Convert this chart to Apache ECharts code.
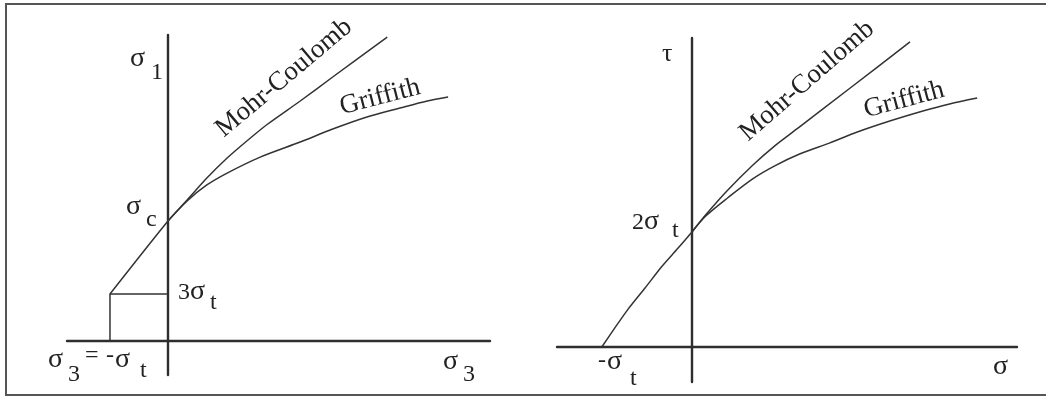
<!DOCTYPE html>
<html>
<head>
<meta charset="utf-8">
<script src="https://cdn.jsdelivr.net/npm/echarts@6/dist/echarts.min.js"></script>
<style>
  html, body { margin: 0; padding: 0; background: #fff; }
  #chart { width: 1046px; height: 398px; }
</style>
</head>
<body>
<div id="chart"></div>
<script>
// left panel: sigma1 vs sigma3, units of sigma_t
var leftRect = [[-1, 0], [-1, 3], [0, 3]];
var leftMohr = [[-1, 3], [0, 7.66], [0.33, 9.0], [0.67, 10.4], [1.02, 11.68], [1.38, 12.83],
  [1.72, 13.85], [2.28, 15.32], [2.84, 16.85], [3.78, 19.4]];
var leftGriffith = [[0, 7.66], [0.33, 8.94], [0.67, 9.96], [1.02, 10.72], [1.59, 11.74],
  [2.28, 12.7], [2.84, 13.53], [3.43, 14.3], [4.0, 14.87], [4.47, 15.32], [4.83, 15.57]];

// right panel: tau vs sigma, units of sigma_t
var rightTension = [[-0.98, 0], [-0.84, 0.32], [-0.7, 0.63], [-0.51, 1.0], [-0.33, 1.36],
  [-0.16, 1.66], [0, 1.95]];
var rightMohr = [[0, 1.95], [0.15, 2.24], [0.39, 2.66], [0.66, 3.08], [0.9, 3.41],
  [1.17, 3.73], [1.72, 4.39], [2.37, 5.17]];
var rightGriffith = [[0, 1.95], [0.15, 2.22], [0.39, 2.53], [0.66, 2.85], [0.9, 3.07],
  [1.17, 3.27], [1.5, 3.46], [1.79, 3.64], [2.15, 3.83], [2.51, 4.0], [2.8, 4.12], [3.1, 4.22]];

var axisColor = '#2e2e2e';
var lineColor = '#333';
var textColor = '#222';
var serif = '"Liberation Serif", "DejaVu Serif", serif';

function valueAxis(idx, min, max) {
  return {
    type: 'value', gridIndex: idx, min: min, max: max,
    axisLine: { show: true, onZero: true, lineStyle: { color: axisColor, width: 2.4 } },
    axisTick: { show: false }, axisLabel: { show: false }, splitLine: { show: false }
  };
}

function curve(name, idx, data, smooth) {
  return {
    name: name, type: 'line', xAxisIndex: idx, yAxisIndex: idx, data: data,
    showSymbol: false, smooth: smooth, silent: true,
    lineStyle: { color: lineColor, width: 1.5 }
  };
}

// x = left edge, b = baseline
function txt(x, b, s, size) {
  size = size || 24;
  return {
    type: 'text', x: x, y: b - 0.3 * size,
    style: { text: s, font: size + 'px ' + serif, fill: textColor, textAlign: 'left', textVerticalAlign: 'middle' }
  };
}
function sig(x, b) { return txt(x, b, 'σ', 28); }
function rotTxt(cx, cy, s, size, deg) {
  return {
    type: 'text', x: cx, y: cy, rotation: deg * Math.PI / 180,
    style: { text: s, font: size + 'px ' + serif, fill: textColor, textAlign: 'center', textVerticalAlign: 'middle' }
  };
}

var chart = echarts.init(document.getElementById('chart'));
var option = {
  backgroundColor: '#fff',
  animation: false,
  grid: [
    { left: 67, right: 556, top: 35, bottom: 23, containLabel: false },
    { left: 557, right: 29, top: 38, bottom: 16, containLabel: false }
  ],
  xAxis: [valueAxis(0, -1.741, 5.552), valueAxis(1, -1.467, 3.533)],
  yAxis: [valueAxis(0, -2.17, 19.532), valueAxis(1, -0.593, 5.237)],
  series: [
    curve('rect', 0, leftRect, false),
    curve('Mohr-Coulomb', 0, leftMohr, 0.25),
    curve('Griffith', 0, leftGriffith, 0.3),
    curve('tension', 1, rightTension, 0.2),
    curve('Mohr-Coulomb', 1, rightMohr, 0.25),
    curve('Griffith', 1, rightGriffith, 0.3)
  ],
  graphic: [
    { type: 'rect', shape: { x: 6, y: 4, width: 1060, height: 391 },
      style: { fill: 'none', stroke: '#555', lineWidth: 2 }, silent: true },
    // left panel labels
    sig(130, 67), txt(151, 80, '1'),
    sig(126, 215), txt(146, 227, 'c'),
    txt(178, 300, '3'), sig(190, 300), txt(210, 310, 't'),
    sig(48, 368), txt(68, 382, '3'), txt(85, 363, '='), txt(106, 363, '-'),
    sig(115, 368), txt(140, 378, 't'),
    sig(443, 370), txt(463, 382, '3'),
    rotTxt(284, 78, 'Mohr-Coulomb', 27, 40),
    rotTxt(380, 97, 'Griffith', 27, 14.5),
    // right panel labels
    txt(662, 62, 'τ', 26),
    txt(632, 230, '2'), sig(644, 230), txt(672, 238, 't'),
    txt(598, 368, '-'), sig(607, 370), txt(630, 386, 't'),
    sig(993, 375),
    rotTxt(807, 81, 'Mohr-Coulomb', 27, 41),
    rotTxt(904, 100, 'Griffith', 27, 15)
  ]
};
chart.setOption(option);
</script>
</body>
</html>
